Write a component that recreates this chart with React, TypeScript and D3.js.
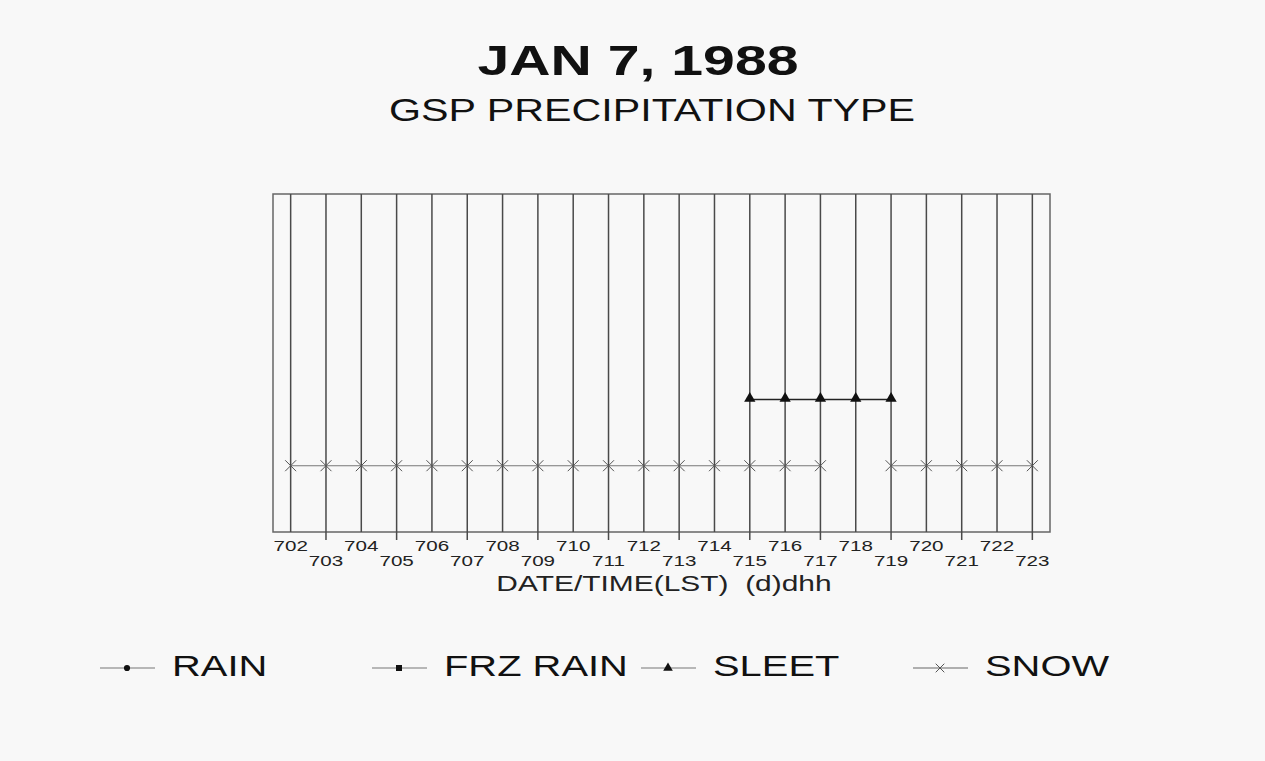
import React, { useRef, useEffect } from 'react';
import * as d3 from 'd3';

// hours on the x axis, labelled (d)dhh
const hours = [702, 703, 704, 705, 706, 707, 708, 709, 710, 711, 712, 713, 714, 715, 716, 717, 718, 719, 720, 721, 722, 723];

// precipitation type levels
const levels = { SNOW: 1, SLEET: 2, 'FRZ RAIN': 3, RAIN: 4 };

// observed hours per type (segments break where type was not observed)
const snowSegments = [
  [702, 703, 704, 705, 706, 707, 708, 709, 710, 711, 712, 713, 714, 715, 716, 717],
  [719, 720, 721, 722, 723],
];
const sleetSegments = [[715, 716, 717, 718, 719]];

const legendItems = ['RAIN', 'FRZ RAIN', 'SLEET', 'SNOW'];

const W = 1265;
const H = 761;

const App = () => {
  const ref = useRef<SVGSVGElement>(null);

  useEffect(() => {
    const svg = d3.select(ref.current);
    svg.selectAll('*').remove();

    const font = 'Liberation Sans, Arial, sans-serif';
    const left = 273, right = 1050, top = 194, bottom = 532;
    const stretch = 1.33; // the scanned lettering is wider than Arial

    svg.append('rect').attr('width', W).attr('height', H).attr('fill', '#f8f8f8');

    const wideText = (g: any, tx: number, ty: number, size: number, txt: string, anchor = 'middle', weight = 'normal') =>
      g.append('text')
        .attr('transform', `translate(${tx},${ty}) scale(${stretch},1)`)
        .attr('text-anchor', anchor)
        .style('font-family', font).style('font-size', `${size}px`).style('font-weight', weight)
        .attr('fill', '#111')
        .style('white-space', 'pre')
        .text(txt);

    // titles
    wideText(svg, 638, 75, 43, 'JAN 7, 1988', 'middle', 'bold');
    wideText(svg, 652, 121, 31, 'GSP PRECIPITATION TYPE');

    const x = d3.scaleLinear().domain([701.5, 723.5]).range([left, right]);
    const y = d3.scaleLinear().domain([0, 5.1]).range([bottom, top]);

    // frame
    svg.append('rect')
      .attr('x', left).attr('y', top)
      .attr('width', right - left).attr('height', bottom - top)
      .attr('fill', 'none').attr('stroke', '#666').attr('stroke-width', 1.5);

    // vertical grid lines, odd hours run a little past the frame
    svg.append('g')
      .selectAll('line')
      .data(hours)
      .join('line')
      .attr('x1', (d) => x(d)).attr('x2', (d) => x(d))
      .attr('y1', top)
      .attr('y2', (d) => (d % 2 ? bottom + 8 : bottom))
      .attr('stroke', '#4a4a4a').attr('stroke-width', 1.5);

    // staggered tick labels
    const ticks = svg.append('g');
    hours.forEach((h) => {
      wideText(ticks, x(h), h % 2 ? 566 : 551, 15.5, String(h)).attr('fill', '#222');
    });

    wideText(svg, 664, 591, 22.5, 'DATE/TIME(LST)  (d)dhh').attr('fill', '#222');

    const line = d3.line<number>().x((d) => x(d));

    // snow
    snowSegments.forEach((seg) => {
      svg.append('path')
        .datum(seg)
        .attr('d', line.y(() => y(levels.SNOW)))
        .attr('fill', 'none').attr('stroke', '#777').attr('stroke-width', 1.2);
    });
    const cross = d3.symbol().type(d3.symbolX).size(80);
    svg.append('g')
      .selectAll('path')
      .data(snowSegments.flat())
      .join('path')
      .attr('transform', (d) => `translate(${x(d)},${y(levels.SNOW)})`)
      .attr('d', cross())
      .attr('fill', 'none').attr('stroke', '#555').attr('stroke-width', 1);

    // sleet
    sleetSegments.forEach((seg) => {
      svg.append('path')
        .datum(seg)
        .attr('d', line.y(() => y(levels.SLEET)))
        .attr('fill', 'none').attr('stroke', '#222').attr('stroke-width', 1.5);
    });
    const tri = d3.symbol().type(d3.symbolTriangle).size(55);
    svg.append('g')
      .selectAll('path')
      .data(sleetSegments.flat())
      .join('path')
      .attr('transform', (d) => `translate(${x(d)},${y(levels.SLEET) - 1})`)
      .attr('d', tri())
      .attr('fill', '#111');

    // legend
    const legendPos = [100, 372, 641, 913];
    const ly = 668;
    const lg = svg.append('g')
      .selectAll('g')
      .data(legendItems)
      .join('g')
      .attr('transform', (_d, i) => `translate(${legendPos[i]},0)`);
    lg.append('line')
      .attr('x1', 0).attr('x2', 55)
      .attr('y1', ly).attr('y2', ly)
      .attr('stroke', (d) => (d === 'SNOW' ? '#666' : '#777'))
      .attr('stroke-width', 1.2);
    lg.append('path')
      .attr('transform', `translate(27,${ly})`)
      .attr('d', (d) => {
        if (d === 'RAIN') return d3.symbol().type(d3.symbolCircle).size(30)();
        if (d === 'FRZ RAIN') return d3.symbol().type(d3.symbolSquare).size(36)();
        if (d === 'SLEET') return d3.symbol().type(d3.symbolTriangle).size(40)();
        return d3.symbol().type(d3.symbolX).size(50)();
      })
      .attr('fill', (d) => (d === 'SNOW' ? 'none' : '#111'))
      .attr('stroke', (d) => (d === 'SNOW' ? '#555' : 'none'));
    lg.each(function (d) {
      wideText(d3.select(this), 72, ly + 8, 30, d, 'start');
    });
  }, []);

  return (
    <div style={{ position: 'absolute', left: 0, top: 0 }}>
      <svg ref={ref} width={W} height={H} style={{ display: 'block' }} />
    </div>
  );
};

export default App;
